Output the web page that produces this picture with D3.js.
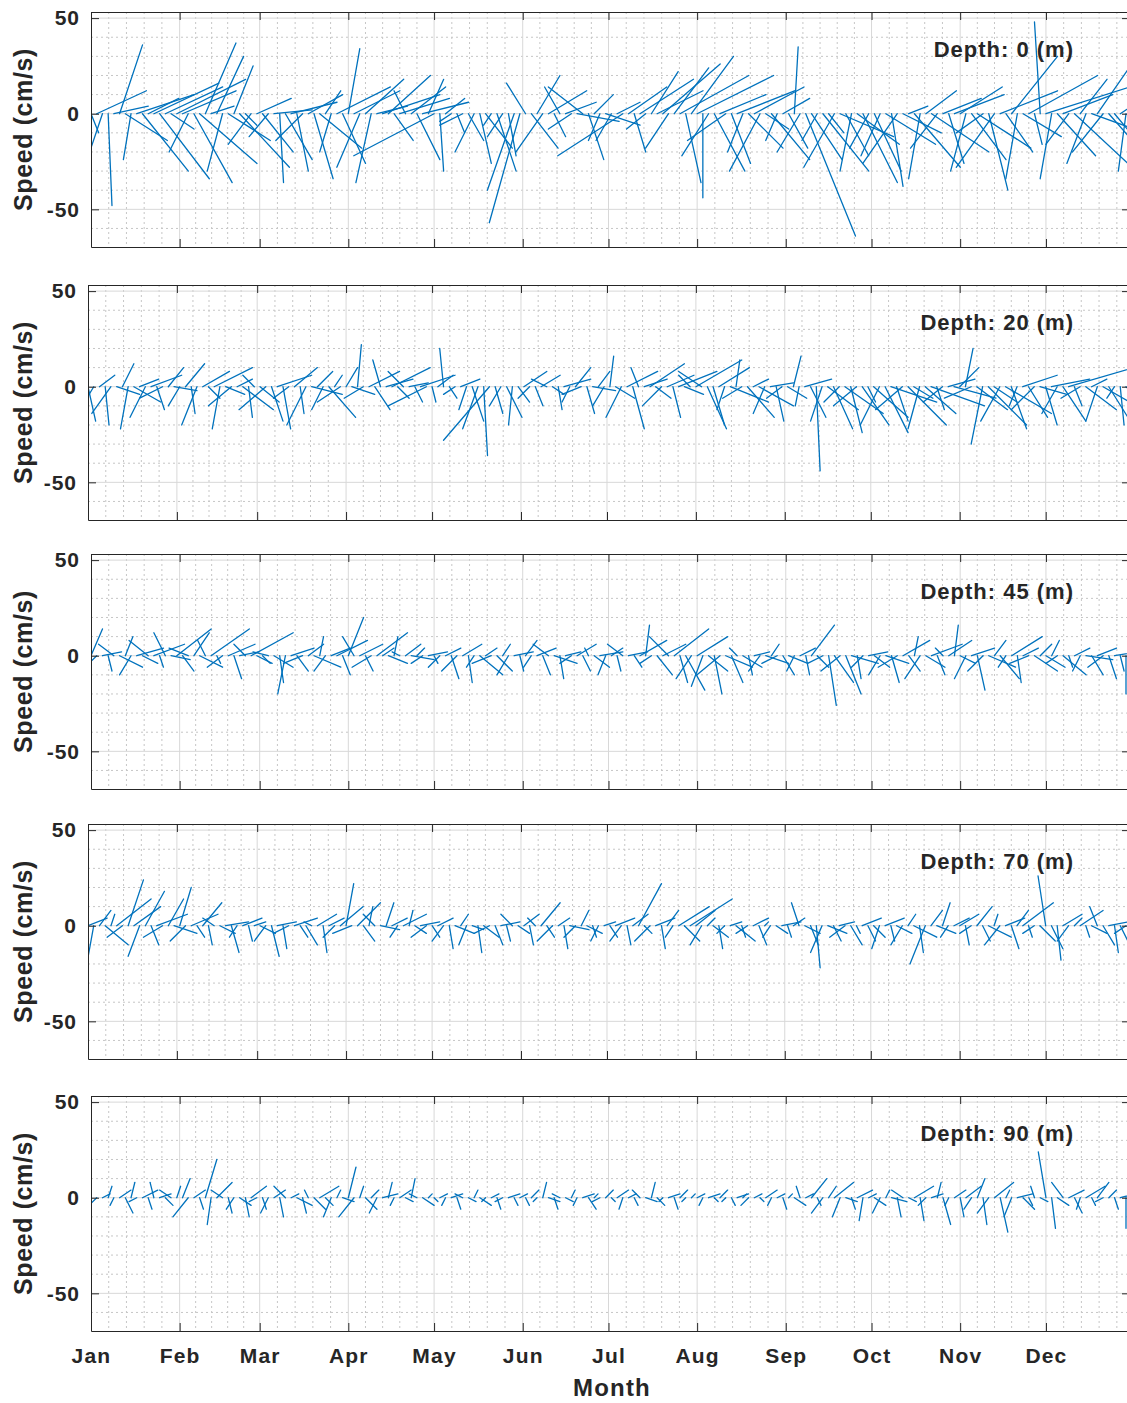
<!DOCTYPE html>
<html lang="en">
<head>
<meta charset="UTF-8">
<title>Current sticks by depth</title>
<script src="https://d3js.org/d3.v7.min.js"></script>
<style>
    body { margin: 0; background: #fff; }
    svg text { font-family: 'Liberation Sans', Arial, sans-serif; font-weight: 700; fill: #262626; }
</style>
</head>
<body>
<svg width="1127" height="1403"></svg>
<script>
    // --- data -------------------------------------------------------------
    const depths = [0, 20, 45, 70, 90];
    const months = ["Jan", "Feb", "Mar", "Apr", "May", "Jun", "Jul", "Aug", "Sep", "Oct", "Nov", "Dec"];
    const monthStart = [0, 31, 59, 90, 120, 151, 181, 212, 243, 273, 304, 334];
    const yearEnd = 365;
    const yMajor = [-50, 0, 50];
    const yMinor = [-60, -40, -30, -20, -10, 10, 20, 30, 40];
    const dayStep = 2; // one stick every 2 days, starting Jan 1

    // [u, v] in cm/s, one row per month
    const sticks0 = [
        [4,-10],[26,12],[-6,-18],[2,-48],[18,4],[12,36],[22,-14],[-4,-24],[30,10],[24,-30],[16,8],[34,16],[26,-34],[30,14],[12,-8],[36,18],
        [28,12],[-10,-20],[20,-36],[30,-26],[16,37],[12,4],[14,30],[-8,-30],[22,-14],[10,25],[26,-28],[6,-6],[-12,-16],[18,8],
        [16,-20],[-10,-12],[20,2],[2,-36],[14,-24],[24,6],[6,-30],[-14,-14],[18,10],[10,-34],[22,-18],[8,12],[-6,-20],[28,14],[12,-26],
        [6,34],[24,12],[-12,-28],[20,18],[-8,-36],[16,4],[30,10],[22,20],[10,-14],[26,8],[-6,12],[18,14],[12,-24],[24,6],[8,18],
        [-42,-22],[2,-30],[10,8],[-6,-4],[4,-10],[-12,-6],[8,-14],[-10,-20],[6,-26],[14,-18],[-4,-6],[10,-30],[-8,-12],[4,-22],[-14,-40],[-16,-57],
        [-10,16],[14,-18],[12,20],[-14,-20],[20,12],[6,-12],[-8,14],[16,6],[-12,-8],[22,-4],[-18,14],[8,-24],[10,10],[-6,-14],[18,-6],
        [-8,-14],[12,6],[-34,-22],[20,14],[6,-20],[28,18],[-10,-8],[14,22],[24,12],[30,26],[-12,-18],[18,24],[36,20],[8,-36],[22,30],
        [40,20],[0,-44],[-14,-22],[16,-30],[24,10],[-20,-14],[10,-26],[30,12],[-8,-20],[18,-18],[26,14],[-16,-30],[12,-8],[20,-24],[-6,-14],[14,8],
        [10,-18],[2,35],[-12,-20],[26,-64],[16,-24],[-8,-14],[24,-30],[8,-10],[-16,-28],[28,-12],[12,-22],[-6,-30],[22,-16],[18,-36],[-10,-18],
        [14,-30],[-10,-22],[26,-16],[6,-38],[-18,-26],[20,-10],[10,4],[24,-28],[-6,-34],[16,12],[30,-20],[-14,-18],[20,8],[8,-26],[26,10],
        [22,14],[-8,-30],[18,-24],[28,-18],[-14,-10],[10,-40],[-20,-28],[30,12],[14,-20],[24,30],[-6,-34],[20,-12],[36,20],[4,-16],[-3,48],
        [44,14],[-6,-34],[20,-22],[26,10],[-12,-16],[30,-28],[14,18],[-10,-26],[22,-8],[18,26],[-16,-20],[28,-32],[10,-12],[24,16],[-4,-30],[12,-18]
    ];
    const sticks20 = [
        [4,-18],[-6,-10],[8,6],[2,-20],[-10,-14],[12,-4],[6,12],[-4,-22],[14,-8],[10,4],[-8,-16],[16,6],[4,-12],[-12,-6],[8,10],[12,-2],
        [-6,-10],[10,12],[2,-14],[-8,-20],[14,8],[6,-6],[20,10],[-4,-22],[10,-4],[-12,-10],[8,4],[16,-12],[2,-16],[-6,6],
        [10,-8],[-14,-12],[6,-18],[18,6],[4,-22],[-8,-6],[12,10],[2,-14],[-10,-20],[16,-4],[8,8],[-6,-12],[14,-16],[4,6],[-12,-8],
        [6,10],[12,-4],[2,22],[-10,-6],[16,8],[8,-12],[-4,14],[14,4],[20,10],[6,-6],[-8,8],[10,2],[4,-8],[18,6],[-20,-10],
        [2,-8],[8,6],[-2,20],[4,-6],[-6,-4],[10,4],[-4,-12],[6,-18],[-8,-22],[2,-36],[-24,-28],[4,-14],[-6,-10],[8,-16],[-2,-20],[6,-8],
        [12,8],[-6,-6],[4,-10],[10,6],[-8,4],[6,-4],[2,-12],[14,4],[-4,-8],[8,10],[-10,-4],[4,-14],[12,-2],[6,8],[-6,-10],
        [2,16],[10,-6],[-8,-16],[16,8],[6,-22],[-4,10],[12,4],[18,12],[8,-6],[-10,-10],[14,6],[4,-16],[20,8],[10,-4],[-6,6],
        [24,14],[-12,8],[10,-22],[6,-20],[16,10],[-4,-12],[20,-8],[2,14],[-10,-6],[14,-16],[8,4],[18,-10],[-6,-14],[12,2],[4,-18],[-8,-6],
        [10,-6],[4,16],[-2,-10],[14,4],[8,-16],[2,-44],[-6,-18],[16,-12],[10,-22],[-8,-8],[20,-14],[6,-24],[-12,-10],[14,-20],[4,-8],
        [18,-16],[-10,-20],[12,-24],[24,-8],[6,-18],[-14,-12],[20,-20],[10,-6],[-6,-22],[16,-14],[28,-10],[4,-12],[-10,-8],[14,4],[22,-6],
        [10,10],[4,20],[-14,-6],[16,-12],[-6,-30],[20,-20],[12,-8],[-10,-18],[24,-14],[8,-22],[-4,-10],[18,6],[10,-16],[-12,-12],[14,-4],
        [6,-20],[20,4],[-8,-14],[12,-18],[34,10],[4,-10],[-10,-6],[16,-12],[8,4],[-6,-18],[14,-8],[10,-16],[-4,-6],[2,-20],[12,-10],[6,-12]
    ];
    const sticks45 = [
        [6,14],[-4,-4],[10,2],[2,-8],[-8,6],[12,-6],[4,10],[-6,-10],[14,4],[8,-4],[-10,8],[16,6],[2,-6],[-6,12],[10,-2],[18,14],
        [6,-8],[-10,4],[8,12],[12,-6],[-4,8],[20,14],[2,-4],[-8,-6],[14,6],[4,-12],[10,2],[-6,6],[22,12],[8,-4],
        [4,-4],[-8,2],[10,-6],[2,-14],[-4,-20],[12,4],[6,-8],[-10,-4],[8,6],[14,-6],[2,10],[-6,-8],[10,4],[16,8],[4,-10],
        [8,20],[-6,10],[12,6],[4,-8],[-10,-6],[16,12],[6,4],[10,-4],[2,10],[-4,2],[8,6],[12,-2],[4,4],[-6,-4],[10,2],
        [2,-4],[-6,-6],[8,4],[4,-12],[-8,-8],[10,6],[2,-14],[-4,-6],[12,-10],[6,4],[-10,-4],[8,-8],[4,6],[-6,-10],[10,2],[2,-8],
        [6,8],[-4,-6],[10,4],[4,-10],[-8,6],[12,-4],[2,-12],[8,2],[-6,-4],[10,6],[4,-8],[-2,4],[8,-6],[12,2],[-4,-10],
        [6,4],[2,-8],[-8,6],[10,2],[4,-6],[14,8],[2,16],[-6,-4],[8,-10],[12,6],[-10,10],[18,14],[4,-14],[10,-18],[-8,-12],
        [16,10],[-6,-16],[10,-8],[4,-20],[-12,-10],[14,-6],[6,-14],[-4,4],[10,-6],[2,-10],[8,2],[-6,-8],[12,-4],[4,6],[-8,-4],[6,-10],
        [10,-4],[-4,-8],[8,4],[2,-10],[12,16],[6,-6],[-8,-4],[4,-26],[10,-14],[-10,-8],[8,-20],[14,-4],[2,-12],[-6,-6],[10,2],
        [8,-6],[-6,-10],[12,-4],[4,-14],[-10,-6],[14,8],[6,-8],[2,10],[-8,-12],[10,-6],[16,6],[4,-10],[-4,4],[12,8],[2,16],
        [8,-4],[-6,-12],[12,4],[4,-18],[-8,-8],[14,-6],[6,8],[10,-12],[-4,-6],[16,10],[2,-14],[8,4],[-10,-4],[12,-8],[6,6],
        [10,-6],[4,8],[-6,-4],[12,-10],[2,-6],[8,4],[-4,-8],[14,-2],[6,-10],[10,4],[-8,-6],[4,-12],[12,2],[2,-8],[0,-20],[6,-6]
    ];
    const sticks70 = [
        [10,4],[-4,-22],[6,8],[12,-10],[2,6],[18,14],[-8,-6],[8,24],[14,10],[-6,-16],[10,18],[4,-10],[16,6],[-10,-6],[8,14],[12,-4],
        [6,20],[-8,-8],[14,6],[4,-6],[10,12],[2,-10],[-6,4],[8,-4],[12,2],[4,-14],[-4,-6],[10,4],[2,-8],[6,2],
        [8,-4],[-6,-8],[4,-16],[10,2],[2,-12],[-8,-4],[12,4],[4,-6],[6,-10],[-4,2],[10,6],[2,-14],[8,4],[-6,-6],[12,10],
        [4,22],[-10,-4],[12,12],[6,-8],[2,10],[-6,6],[10,-2],[4,12],[8,4],[-4,-6],[12,6],[2,8],[6,-4],[10,2],[-8,-6],
        [4,-6],[8,4],[-6,-8],[2,-12],[10,-4],[4,6],[-4,-10],[6,-2],[2,-14],[8,-6],[-8,-4],[4,-10],[10,2],[2,-8],[-6,6],[6,-4],
        [8,6],[2,-10],[-4,4],[10,12],[4,-6],[-8,-8],[6,4],[2,-12],[10,-2],[-6,-6],[4,8],[8,-4],[2,-6],[-4,-8],[6,2],
        [4,-6],[10,4],[-6,-8],[2,-10],[8,6],[12,22],[4,-4],[-8,-8],[10,4],[2,-12],[6,8],[-4,-6],[16,10],[8,-8],[22,14],
        [10,8],[-6,-10],[4,4],[8,-6],[2,-12],[-4,-4],[6,2],[10,-8],[2,-6],[-6,-4],[8,4],[4,-10],[2,2],[-4,-6],[6,-4],[10,2],
        [2,-6],[6,4],[-4,12],[8,-4],[4,-10],[2,-22],[-6,-14],[10,-4],[4,-8],[8,2],[-8,-6],[6,-10],[2,-4],[10,4],[4,-8],
        [6,-6],[-4,-12],[10,4],[2,-8],[8,-4],[-6,-10],[4,6],[12,-6],[2,-14],[-8,-20],[6,8],[10,-4],[4,12],[-4,-6],[8,4],
        [10,6],[2,-10],[-6,-4],[8,10],[4,-8],[12,-6],[2,6],[-8,-10],[10,4],[4,-12],[6,8],[16,12],[2,-6],[-6,-4],[8,-8],
        [-4,26],[6,-12],[2,-18],[10,6],[-6,-8],[4,4],[12,8],[2,-6],[8,-4],[-4,10],[6,-10],[10,2],[2,-14],[4,-8],[-6,-4],[8,2]
    ];
    const sticks90 = [
        [0,16],[-6,-6],[4,2],[2,6],[-2,-4],[6,4],[4,-8],[2,8],[-4,-2],[8,4],[2,-6],[-2,8],[6,2],[4,-4],[-6,4],[2,6],
        [4,10],[-8,-10],[6,4],[2,-6],[6,20],[-2,-14],[8,8],[-6,4],[2,-8],[-4,-6],[6,-4],[2,-10],[8,6],[-4,-2],
        [2,-6],[-4,-8],[6,4],[2,-10],[-6,6],[4,2],[8,-4],[2,-8],[-2,4],[6,-6],[10,6],[4,-4],[-4,-10],[2,4],[6,-2],
        [4,16],[-8,-10],[2,6],[6,-6],[4,4],[-4,-8],[8,2],[2,8],[-2,-4],[6,4],[4,-2],[2,10],[-4,2],[6,-4],[2,2],
        [2,-2],[4,2],[-2,-4],[6,2],[2,-6],[-4,2],[4,-2],[2,4],[6,-4],[-2,-2],[4,2],[2,-6],[-4,-2],[6,2],[2,-4],[4,2],
        [2,-4],[4,4],[-2,-2],[2,8],[6,-2],[2,-6],[-4,2],[4,-2],[2,4],[-2,-4],[6,2],[4,-6],[2,2],[-4,-2],[4,4],
        [2,-2],[6,4],[-2,-6],[4,2],[2,-4],[-4,4],[6,-2],[2,8],[4,-4],[-2,-2],[6,2],[2,-6],[4,4],[-2,-2],[2,2],
        [4,2],[-2,-4],[6,2],[2,-2],[4,4],[-2,-2],[2,-4],[6,2],[2,2],[-4,-4],[4,2],[2,-2],[6,4],[-2,-4],[4,2],[2,-6],
        [2,2],[6,-4],[-2,6],[4,2],[8,10],[2,-4],[-6,-8],[4,6],[10,8],[-4,-10],[6,-2],[2,-6],[8,4],[-2,-12],[4,2],
        [6,-4],[-4,-8],[2,4],[8,-2],[2,-10],[-6,4],[4,-2],[10,6],[2,-12],[-4,-4],[6,2],[2,8],[4,-14],[-2,-4],[6,4],
        [2,-10],[8,6],[-4,-6],[4,10],[2,-14],[-6,-8],[10,8],[4,-18],[2,4],[-4,-10],[8,2],[6,-6],[2,-4],[-2,6],[4,-2],
        [-4,24],[2,-16],[6,-4],[-6,8],[8,4],[4,-8],[-2,-6],[10,6],[2,-4],[6,8],[-4,-2],[4,4],[2,-6],[8,2],[0,-16],[-2,-12]
    ];
    const sticks = [sticks0, sticks20, sticks45, sticks70, sticks90];

    // --- layout -----------------------------------------------------------
    const svg = d3.select("svg");
    const right = 1130;
    const panelHeight = 235;
    const panelTops = [12, 285, 554, 824, 1096];
    const panelLefts = [91, 88, 91, 88, 91];
    const dayEnd = 363.4;
    const yDomain = [-69.7, 53.2];

    // minor x grid: every month interval split in five
    const bounds = monthStart.concat([yearEnd]);
    const xMinor = [];
    for (let m = 0; m < 12; m++) {
        for (let k = 1; k < 5; k++) xMinor.push(bounds[m] + (bounds[m + 1] - bounds[m]) * k / 5);
    }

    depths.forEach((depth, i) => {
        const top = panelTops[i], bottom = top + panelHeight, left = panelLefts[i];

        const x = d3.scaleLinear().domain([0, dayEnd]).range([left, right]);
        const y = d3.scaleLinear().domain(yDomain).range([bottom, top]);

        const g = svg.append("g");

        // grid
        const grid = g.append("g").attr("fill", "none");
        grid.selectAll("line.xminor").data(xMinor).join("line")
            .attr("x1", d => x(d)).attr("x2", d => x(d))
            .attr("y1", top).attr("y2", bottom)
            .attr("stroke", "#c6c6c6").attr("stroke-dasharray", "2,3");
        grid.selectAll("line.yminor").data(yMinor).join("line")
            .attr("x1", left).attr("x2", right)
            .attr("y1", d => y(d)).attr("y2", d => y(d))
            .attr("stroke", "#c6c6c6").attr("stroke-dasharray", "2,3");
        grid.selectAll("line.xmajor").data(monthStart.slice(1)).join("line")
            .attr("x1", d => x(d)).attr("x2", d => x(d))
            .attr("y1", top).attr("y2", bottom)
            .attr("stroke", "#d8d8d8");
        grid.selectAll("line.ymajor").data(yMajor).join("line")
            .attr("x1", left).attr("x2", right)
            .attr("y1", d => y(d)).attr("y2", d => y(d))
            .attr("stroke", "#d8d8d8");

        // sticks
        svg.append("clipPath").attr("id", "clip" + i)
            .append("rect")
            .attr("x", left).attr("y", top)
            .attr("width", right - left).attr("height", panelHeight);

        g.append("g")
            .attr("clip-path", `url(#clip${i})`)
            .selectAll("line")
            .data(sticks[i])
            .join("line")
            .attr("x1", (d, j) => x(j * dayStep))
            .attr("y1", y(0))
            .attr("x2", (d, j) => x(j * dayStep) + (y(0) - y(d[0])))
            .attr("y2", d => y(d[1]))
            .attr("stroke", "#0072bd")
            .attr("stroke-width", 1.3)
            .attr("stroke-linecap", "round");

        // axes (box with inward ticks)
        g.append("g")
            .attr("transform", `translate(0,${bottom})`)
            .attr("color", "#262626")
            .call(d3.axisBottom(x).tickValues(monthStart).tickSize(-8).tickSizeOuter(0).tickPadding(17.5)
                .tickFormat((d, k) => i === depths.length - 1 ? months[k] : ""))
            .selectAll("text")
            .style("font-size", "21px")
            .style("letter-spacing", "1.2px");

        g.append("g")
            .attr("transform", `translate(0,${top})`)
            .attr("color", "#262626")
            .call(d3.axisTop(x).tickValues(monthStart).tickSize(-8).tickSizeOuter(0).tickFormat(""));

        g.append("g")
            .attr("transform", `translate(${left},0)`)
            .attr("color", "#262626")
            .call(d3.axisLeft(y).tickValues(yMajor).tickSize(-8).tickSizeOuter(0).tickPadding(11)
                .tickFormat(d => String(d)))
            .selectAll("text")
            .style("font-size", "21px")
            .style("letter-spacing", "1px");

        g.append("g")
            .attr("transform", `translate(${right},0)`)
            .attr("color", "#262626")
            .call(d3.axisRight(y).tickValues(yMajor).tickSize(-8).tickSizeOuter(0).tickFormat(""));

        // y label
        g.append("text")
            .attr("transform", `translate(32,${(top + bottom) / 2}) rotate(-90)`)
            .attr("text-anchor", "middle")
            .style("font-size", "25px")
            .style("letter-spacing", "0.6px")
            .text("Speed (cm/s)");

        // depth label
        g.append("text")
            .attr("x", 1074)
            .attr("y", top + 45)
            .attr("text-anchor", "end")
            .style("font-size", "22px")
            .style("letter-spacing", "1px")
            .text(`Depth: ${depth} (m)`);
    });

    svg.append("text")
        .attr("x", 612)
        .attr("y", 1396)
        .attr("text-anchor", "middle")
        .style("font-size", "24px")
        .style("letter-spacing", "1.2px")
        .text("Month");
</script>
</body>
</html>
